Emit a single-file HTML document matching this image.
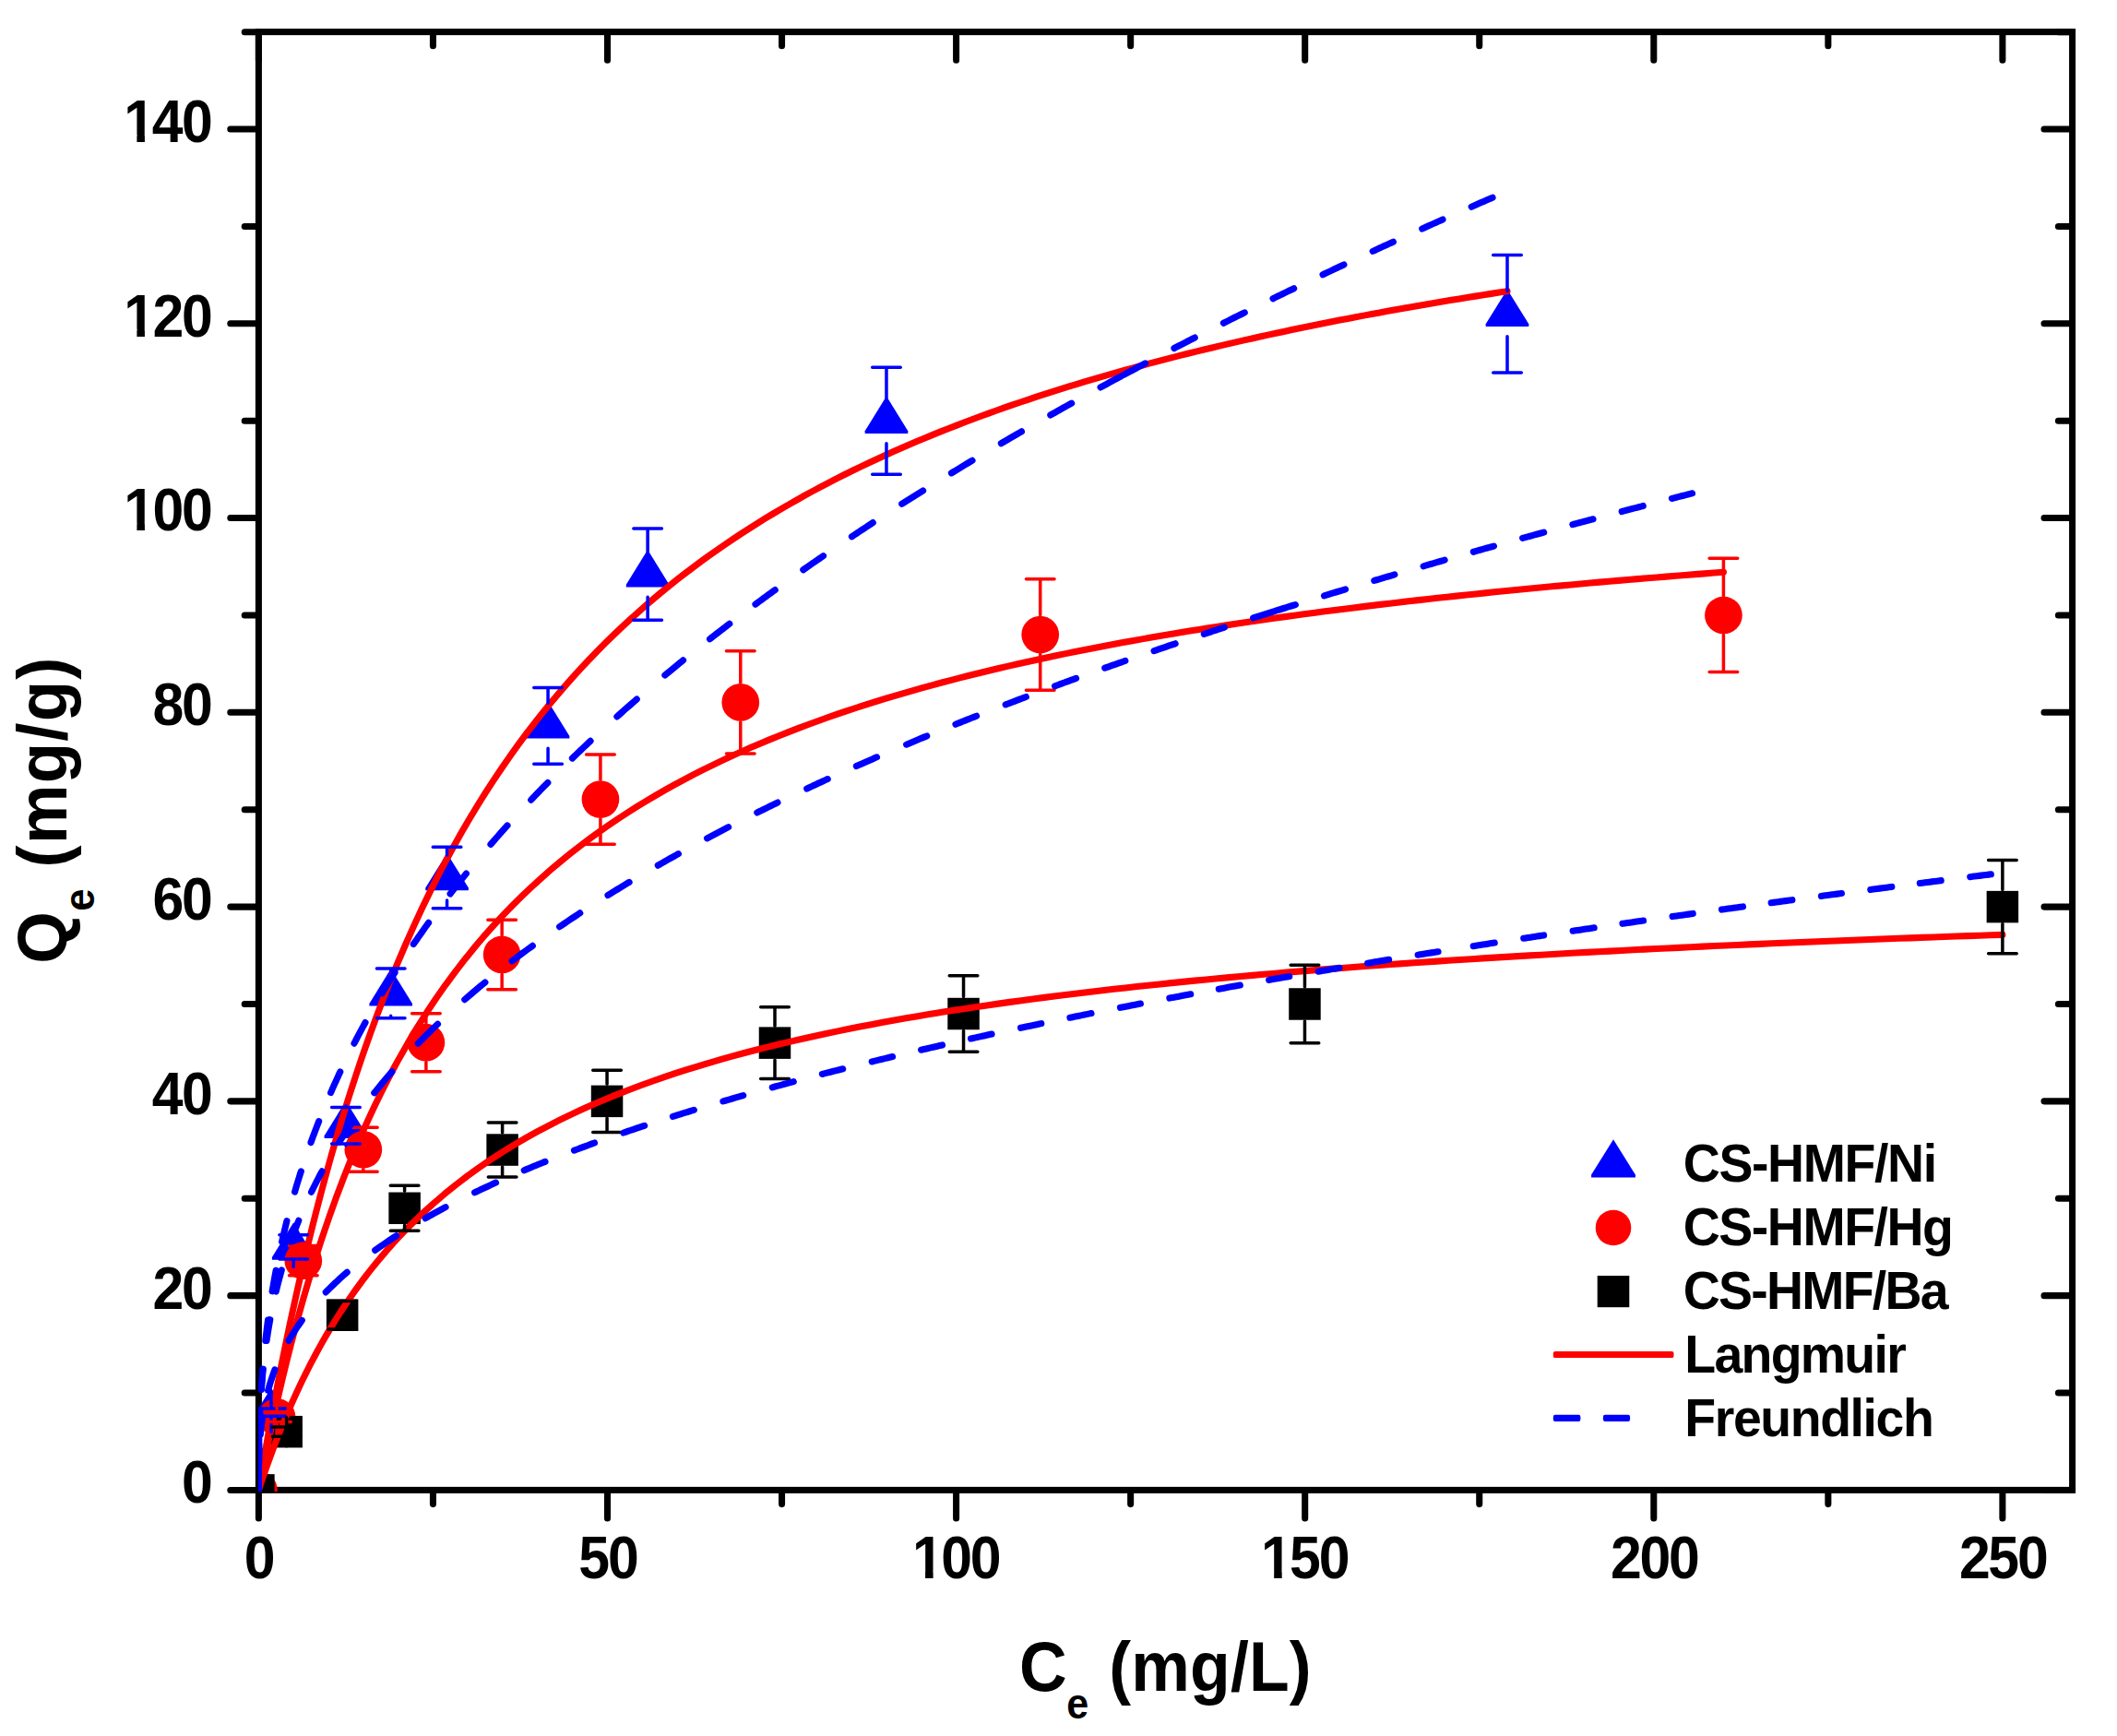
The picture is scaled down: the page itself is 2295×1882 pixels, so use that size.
<!DOCTYPE html>
<html lang="en"><head><meta charset="utf-8"><title>Adsorption isotherms</title>
<style>html,body{margin:0;padding:0;background:#fff}svg{display:block}</style></head>
<body>
<svg width="2295" height="1882" viewBox="0 0 2295 1882">
<rect width="2295" height="1882" fill="#fff"/>
<g stroke="#000" stroke-width="7.05" fill="none" stroke-linecap="round">
<rect x="280.4" y="34.6" width="1966.20" height="1580.80" stroke-linejoin="miter"/>
<path d="M280.40 1616.0v30.0M280.40 35.2v30.0"/>
<path d="M469.45 1616.0v14.6M469.45 35.2v14.6"/>
<path d="M658.50 1616.0v30.0M658.50 35.2v30.0"/>
<path d="M847.55 1616.0v14.6M847.55 35.2v14.6"/>
<path d="M1036.60 1616.0v30.0M1036.60 35.2v30.0"/>
<path d="M1225.65 1616.0v14.6M1225.65 35.2v14.6"/>
<path d="M1414.70 1616.0v30.0M1414.70 35.2v30.0"/>
<path d="M1603.75 1616.0v14.6M1603.75 35.2v14.6"/>
<path d="M1792.80 1616.0v30.0M1792.80 35.2v30.0"/>
<path d="M1981.85 1616.0v14.6M1981.85 35.2v14.6"/>
<path d="M2170.90 1616.0v30.0M2170.90 35.2v30.0"/>
<path d="M279.79999999999995 1615.40h-30.0M2246.0 1615.40h-30.0"/>
<path d="M279.79999999999995 1510.02h-14.6M2246.0 1510.02h-14.6"/>
<path d="M279.79999999999995 1404.64h-30.0M2246.0 1404.64h-30.0"/>
<path d="M279.79999999999995 1299.25h-14.6M2246.0 1299.25h-14.6"/>
<path d="M279.79999999999995 1193.87h-30.0M2246.0 1193.87h-30.0"/>
<path d="M279.79999999999995 1088.49h-14.6M2246.0 1088.49h-14.6"/>
<path d="M279.79999999999995 983.11h-30.0M2246.0 983.11h-30.0"/>
<path d="M279.79999999999995 877.73h-14.6M2246.0 877.73h-14.6"/>
<path d="M279.79999999999995 772.34h-30.0M2246.0 772.34h-30.0"/>
<path d="M279.79999999999995 666.96h-14.6M2246.0 666.96h-14.6"/>
<path d="M279.79999999999995 561.58h-30.0M2246.0 561.58h-30.0"/>
<path d="M279.79999999999995 456.20h-14.6M2246.0 456.20h-14.6"/>
<path d="M279.79999999999995 350.81h-30.0M2246.0 350.81h-30.0"/>
<path d="M279.79999999999995 245.43h-14.6M2246.0 245.43h-14.6"/>
<path d="M279.79999999999995 140.05h-30.0M2246.0 140.05h-30.0"/>
<path d="M279.79999999999995 34.67h-14.6M2246.0 34.67h-14.6"/>
</g>
<defs><clipPath id="cp"><rect x="280.2" y="0" width="2100" height="1617"/></clipPath></defs>
<g clip-path="url(#cp)">
<path fill="#00f" d="M280.40 1588.80L303.70 1626.40V1629.10H257.10V1626.40Z"/>
<path fill="#00f" d="M294.01 1504.49L317.31 1542.09V1544.79H270.71V1542.09Z"/>
<path fill="#00f" d="M318.21 1325.34L341.51 1362.94V1365.64H294.91V1362.94Z"/>
<path fill="#00f" d="M374.92 1193.62L398.22 1231.22V1233.92H351.62V1231.22Z"/>
<path fill="#00f" d="M423.70 1050.30L447.00 1087.90V1090.60H400.40V1087.90Z"/>
<path fill="#00f" d="M484.57 924.89L507.87 962.49V965.19H461.27V962.49Z"/>
<path fill="#00f" d="M594.07 760.29L617.37 797.89V800.59H570.77V797.89Z"/>
<path fill="#00f" d="M702.13 596.10L725.43 633.70V636.40H678.83V633.70Z"/>
<path fill="#00f" d="M960.98 429.60L984.28 467.20V469.90H937.68V467.20Z"/>
<path fill="#00f" d="M1634.00 313.68L1657.30 351.28V353.98H1610.70V351.28Z"/>
<circle fill="#f00" cx="280.40" cy="1615.40" r="20.35"/>
<circle fill="#f00" cx="300.06" cy="1536.36" r="20.35"/>
<circle fill="#f00" cx="328.80" cy="1366.70" r="20.35"/>
<circle fill="#f00" cx="393.83" cy="1246.25" r="20.35"/>
<circle fill="#f00" cx="461.89" cy="1130.22" r="20.35"/>
<circle fill="#f00" cx="544.16" cy="1034.96" r="20.35"/>
<circle fill="#f00" cx="650.94" cy="866.55" r="20.35"/>
<circle fill="#f00" cx="802.78" cy="761.38" r="20.35"/>
<circle fill="#f00" cx="1127.72" cy="688.04" r="20.35"/>
<circle fill="#f00" cx="1868.42" cy="666.96" r="20.35"/>
<rect fill="#000" x="263.15" y="1598.15" width="34.5" height="34.5"/>
<rect fill="#000" x="293.40" y="1534.92" width="34.5" height="34.5"/>
<rect fill="#000" x="353.89" y="1408.46" width="34.5" height="34.5"/>
<rect fill="#000" x="421.35" y="1292.54" width="34.5" height="34.5"/>
<rect fill="#000" x="527.37" y="1229.31" width="34.5" height="34.5"/>
<rect fill="#000" x="640.80" y="1176.62" width="34.5" height="34.5"/>
<rect fill="#000" x="822.74" y="1113.39" width="34.5" height="34.5"/>
<rect fill="#000" x="1027.29" y="1081.78" width="34.5" height="34.5"/>
<rect fill="#000" x="1397.22" y="1071.24" width="34.5" height="34.5"/>
<rect fill="#000" x="2153.65" y="965.86" width="34.5" height="34.5"/>
<polyline fill="none" stroke="#f00" stroke-width="7.1" stroke-linecap="round" stroke-linejoin="round" points="280.40,1615.40 282.96,1600.14 285.53,1585.17 288.09,1570.50 290.65,1556.11 293.22,1541.99 295.78,1528.13 298.34,1514.54 300.91,1501.19 303.47,1488.09 306.03,1475.23 308.60,1462.59 311.16,1450.19 313.72,1438.00 316.29,1426.02 318.85,1414.26 321.41,1402.69 323.98,1391.32 326.54,1380.15 329.10,1369.16 331.67,1358.35 334.23,1347.72 336.79,1337.27 339.36,1326.98 341.92,1316.86 344.48,1306.91 347.05,1297.11 349.61,1287.46 352.17,1277.96 354.74,1268.61 357.30,1259.41 359.87,1250.34 362.43,1241.41 364.99,1232.62 367.56,1223.96 370.12,1215.42 372.68,1207.01 375.25,1198.72 377.81,1190.55 380.37,1182.50 382.94,1174.57 385.50,1166.74 388.06,1159.03 390.63,1151.42 393.19,1143.92 395.75,1136.52 398.32,1129.23 400.88,1122.03 403.44,1114.93 406.01,1107.92 408.57,1101.01 411.13,1094.19 413.70,1087.46 416.26,1080.81 418.82,1074.26 421.39,1067.78 423.95,1061.39 426.51,1055.08 429.08,1048.86 431.64,1042.70 440.29,1022.51 448.94,1003.13 457.59,984.52 466.24,966.64 474.89,949.45 483.54,932.90 492.19,916.96 500.84,901.60 509.49,886.78 518.14,872.49 526.79,858.68 535.44,845.34 544.09,832.45 552.74,819.97 561.39,807.90 570.04,796.20 578.69,784.88 587.34,773.90 595.99,763.25 604.64,752.92 613.29,742.89 621.94,733.15 630.59,723.68 639.24,714.49 647.89,705.55 656.54,696.85 665.19,688.39 673.84,680.15 682.49,672.13 691.14,664.31 699.79,656.70 708.44,649.28 717.09,642.04 725.74,634.98 734.39,628.09 743.04,621.37 751.69,614.81 760.34,608.40 768.99,602.14 777.64,596.03 786.29,590.05 794.94,584.21 803.59,578.49 812.24,572.91 820.89,567.44 829.54,562.09 838.19,556.85 846.84,551.73 855.49,546.71 864.14,541.79 872.79,536.97 881.44,532.25 890.09,527.63 898.74,523.09 907.39,518.65 916.04,514.29 924.69,510.02 933.34,505.82 941.99,501.71 950.64,497.67 959.29,493.71 967.94,489.81 976.59,485.99 985.24,482.24 993.89,478.56 1002.54,474.94 1011.19,471.38 1019.84,467.89 1028.49,464.45 1037.14,461.08 1045.79,457.76 1054.44,454.49 1063.09,451.29 1071.74,448.13 1080.39,445.03 1089.04,441.97 1097.69,438.97 1106.34,436.01 1114.99,433.10 1123.64,430.24 1132.29,427.42 1140.94,424.64 1149.59,421.91 1158.24,419.22 1166.89,416.57 1175.54,413.95 1184.20,411.38 1192.85,408.85 1201.50,406.35 1210.15,403.89 1218.80,401.47 1227.45,399.08 1236.10,396.72 1244.75,394.40 1253.40,392.11 1262.05,389.85 1270.70,387.62 1279.35,385.43 1288.00,383.26 1296.65,381.12 1305.30,379.02 1313.95,376.94 1322.60,374.89 1331.25,372.86 1339.90,370.86 1348.55,368.89 1357.20,366.95 1365.85,365.02 1374.50,363.13 1383.15,361.25 1391.80,359.41 1400.45,357.58 1409.10,355.78 1417.75,354.00 1426.40,352.24 1435.05,350.50 1443.70,348.79 1452.35,347.09 1461.00,345.42 1469.65,343.76 1478.30,342.13 1486.95,340.51 1495.60,338.91 1504.25,337.34 1512.90,335.78 1521.55,334.23 1530.20,332.71 1538.85,331.20 1547.50,329.71 1556.15,328.24 1564.80,326.79 1573.45,325.35 1582.10,323.92 1590.75,322.51 1599.40,321.12 1608.05,319.74 1616.70,318.38 1625.35,317.03 1634.00,315.70"/>
<polyline fill="none" stroke="#f00" stroke-width="7.1" stroke-linecap="round" stroke-linejoin="round" points="280.40,1615.40 282.96,1602.12 285.53,1589.14 288.09,1576.46 290.65,1564.07 293.22,1551.96 295.78,1540.12 298.34,1528.54 300.91,1517.21 303.47,1506.12 306.03,1495.27 308.60,1484.64 311.16,1474.24 313.72,1464.05 316.29,1454.07 318.85,1444.29 321.41,1434.71 323.98,1425.32 326.54,1416.11 329.10,1407.08 331.67,1398.22 334.23,1389.53 336.79,1381.01 339.36,1372.64 341.92,1364.43 344.48,1356.37 347.05,1348.45 349.61,1340.68 352.17,1333.05 354.74,1325.55 357.30,1318.19 359.87,1310.95 362.43,1303.83 364.99,1296.84 367.56,1289.97 370.12,1283.21 372.68,1276.57 375.25,1270.03 377.81,1263.60 380.37,1257.28 382.94,1251.05 385.50,1244.93 388.06,1238.91 390.63,1232.98 393.19,1227.14 395.75,1221.39 398.32,1215.73 400.88,1210.16 403.44,1204.67 406.01,1199.26 408.57,1193.94 411.13,1188.69 413.70,1183.52 416.26,1178.43 418.82,1173.41 421.39,1168.46 423.95,1163.58 426.51,1158.77 429.08,1154.03 431.64,1149.36 441.98,1131.15 452.31,1113.92 462.65,1097.58 472.99,1082.07 483.32,1067.33 493.66,1053.30 504.00,1039.93 514.33,1027.17 524.67,1014.98 535.01,1003.34 545.34,992.19 555.68,981.51 566.02,971.28 576.35,961.46 586.69,952.02 597.02,942.95 607.36,934.23 617.70,925.84 628.03,917.75 638.37,909.96 648.71,902.44 659.04,895.18 669.38,888.17 679.72,881.39 690.05,874.84 700.39,868.51 710.73,862.37 721.06,856.43 731.40,850.68 741.74,845.09 752.07,839.68 762.41,834.43 772.75,829.33 783.08,824.38 793.42,819.57 803.76,814.89 814.09,810.34 824.43,805.92 834.77,801.61 845.10,797.42 855.44,793.34 865.77,789.36 876.11,785.49 886.45,781.71 896.78,778.03 907.12,774.43 917.46,770.93 927.79,767.50 938.13,764.16 948.47,760.90 958.80,757.71 969.14,754.60 979.48,751.55 989.81,748.58 1000.15,745.67 1010.49,742.82 1020.82,740.03 1031.16,737.31 1041.50,734.64 1051.83,732.03 1062.17,729.47 1072.51,726.97 1082.84,724.51 1093.18,722.11 1103.52,719.75 1113.85,717.44 1124.19,715.17 1134.53,712.95 1144.86,710.77 1155.20,708.63 1165.53,706.53 1175.87,704.47 1186.21,702.45 1196.54,700.47 1206.88,698.52 1217.22,696.61 1227.55,694.73 1237.89,692.88 1248.23,691.07 1258.56,689.29 1268.90,687.54 1279.24,685.81 1289.57,684.12 1299.91,682.46 1310.25,680.82 1320.58,679.21 1330.92,677.63 1341.26,676.07 1351.59,674.53 1361.93,673.03 1372.27,671.54 1382.60,670.08 1392.94,668.64 1403.28,667.22 1413.61,665.83 1423.95,664.46 1434.29,663.10 1444.62,661.77 1454.96,660.46 1465.29,659.16 1475.63,657.89 1485.97,656.63 1496.30,655.40 1506.64,654.18 1516.98,652.97 1527.31,651.79 1537.65,650.62 1547.99,649.47 1558.32,648.33 1568.66,647.21 1579.00,646.10 1589.33,645.01 1599.67,643.94 1610.01,642.88 1620.34,641.83 1630.68,640.79 1641.02,639.77 1651.35,638.77 1661.69,637.77 1672.03,636.79 1682.36,635.82 1692.70,634.87 1703.04,633.92 1713.37,632.99 1723.71,632.07 1734.04,631.16 1744.38,630.26 1754.72,629.38 1765.05,628.50 1775.39,627.63 1785.73,626.78 1796.06,625.93 1806.40,625.10 1816.74,624.27 1827.07,623.46 1837.41,622.65 1847.75,621.85 1858.08,621.07 1868.42,620.29"/>
<polyline fill="none" stroke="#f00" stroke-width="7.1" stroke-linecap="round" stroke-linejoin="round" points="280.40,1615.40 282.96,1607.67 285.53,1600.12 288.09,1592.74 290.65,1585.53 293.22,1578.47 295.78,1571.57 298.34,1564.81 300.91,1558.20 303.47,1551.72 306.03,1545.39 308.60,1539.18 311.16,1533.10 313.72,1527.14 316.29,1521.30 318.85,1515.58 321.41,1509.97 323.98,1504.46 326.54,1499.07 329.10,1493.77 331.67,1488.58 334.23,1483.48 336.79,1478.48 339.36,1473.57 341.92,1468.75 344.48,1464.01 347.05,1459.36 349.61,1454.80 352.17,1450.31 354.74,1445.90 357.30,1441.57 359.87,1437.31 362.43,1433.12 364.99,1429.00 367.56,1424.95 370.12,1420.97 372.68,1417.06 375.25,1413.20 377.81,1409.41 380.37,1405.68 382.94,1402.01 385.50,1398.40 388.06,1394.84 390.63,1391.34 393.19,1387.90 395.75,1384.50 398.32,1381.16 400.88,1377.86 403.44,1374.62 406.01,1371.43 408.57,1368.28 411.13,1365.17 413.70,1362.12 416.26,1359.10 418.82,1356.13 421.39,1353.20 423.95,1350.31 426.51,1347.47 429.08,1344.66 431.64,1341.89 444.15,1328.91 456.67,1316.74 469.18,1305.32 481.69,1294.57 494.20,1284.45 506.72,1274.89 519.23,1265.85 531.74,1257.29 544.25,1249.18 556.77,1241.47 569.28,1234.14 581.79,1227.17 594.30,1220.52 606.82,1214.17 619.33,1208.11 631.84,1202.31 644.36,1196.76 656.87,1191.45 669.38,1186.35 681.89,1181.46 694.41,1176.76 706.92,1172.24 719.43,1167.89 731.94,1163.71 744.46,1159.67 756.97,1155.79 769.48,1152.04 781.99,1148.42 794.51,1144.92 807.02,1141.54 819.53,1138.27 832.05,1135.11 844.56,1132.05 857.07,1129.08 869.58,1126.21 882.10,1123.43 894.61,1120.72 907.12,1118.10 919.63,1115.55 932.15,1113.08 944.66,1110.68 957.17,1108.34 969.68,1106.07 982.20,1103.86 994.71,1101.71 1007.22,1099.61 1019.74,1097.57 1032.25,1095.58 1044.76,1093.65 1057.27,1091.76 1069.79,1089.92 1082.30,1088.12 1094.81,1086.37 1107.32,1084.66 1119.84,1082.99 1132.35,1081.36 1144.86,1079.76 1157.37,1078.20 1169.89,1076.68 1182.40,1075.19 1194.91,1073.74 1207.43,1072.31 1219.94,1070.92 1232.45,1069.56 1244.96,1068.22 1257.48,1066.91 1269.99,1065.63 1282.50,1064.38 1295.01,1063.15 1307.53,1061.95 1320.04,1060.77 1332.55,1059.61 1345.06,1058.48 1357.58,1057.37 1370.09,1056.27 1382.60,1055.20 1395.11,1054.15 1407.63,1053.12 1420.14,1052.11 1432.65,1051.12 1445.17,1050.14 1457.68,1049.19 1470.19,1048.24 1482.70,1047.32 1495.22,1046.41 1507.73,1045.52 1520.24,1044.64 1532.75,1043.78 1545.27,1042.93 1557.78,1042.10 1570.29,1041.28 1582.80,1040.47 1595.32,1039.68 1607.83,1038.90 1620.34,1038.13 1632.86,1037.37 1645.37,1036.63 1657.88,1035.90 1670.39,1035.18 1682.91,1034.47 1695.42,1033.77 1707.93,1033.08 1720.44,1032.40 1732.96,1031.74 1745.47,1031.08 1757.98,1030.43 1770.49,1029.79 1783.01,1029.16 1795.52,1028.54 1808.03,1027.93 1820.55,1027.33 1833.06,1026.73 1845.57,1026.15 1858.08,1025.57 1870.60,1025.00 1883.11,1024.44 1895.62,1023.89 1908.13,1023.34 1920.65,1022.80 1933.16,1022.27 1945.67,1021.74 1958.18,1021.22 1970.70,1020.71 1983.21,1020.21 1995.72,1019.71 2008.24,1019.22 2020.75,1018.73 2033.26,1018.25 2045.77,1017.78 2058.29,1017.31 2070.80,1016.85 2083.31,1016.40 2095.82,1015.95 2108.34,1015.50 2120.85,1015.06 2133.36,1014.63 2145.87,1014.20 2158.39,1013.77 2170.90,1013.36"/>
<path fill="none" stroke="#00f" stroke-width="3.5" stroke-linecap="round" d="M278.71 1526.88h30.6M278.71 1535.31h30.6M294.01 1526.88V1509.64M294.01 1535.31V1552.54M302.91 1338.77h30.6M302.91 1365.12h30.6M318.21 1338.77V1330.49M318.21 1365.12V1373.39M359.62 1200.46h30.6M359.62 1239.98h30.6M374.92 1200.46V1198.77M374.92 1239.98V1241.67M408.40 1049.97h30.6M408.40 1103.82h30.6M423.70 1049.97V1052.45M423.70 1103.82V1101.35M469.27 918.30h30.6M469.27 984.69h30.6M484.57 918.30V927.04M484.57 984.69V975.94M578.77 745.46h30.6M578.77 828.31h30.6M594.07 745.46V762.44M594.07 828.31V811.34M686.83 573.07h30.6M686.83 672.34h30.6M702.13 573.07V598.25M702.13 672.34V647.15M945.68 398.24h30.6M945.68 514.16h30.6M960.98 398.24V431.75M960.98 514.16V480.65M1618.70 276.52h30.6M1618.70 404.03h30.6M1634.00 276.52V315.83M1634.00 404.03V364.73"/>
<path fill="none" stroke="#f00" stroke-width="3.5" stroke-linecap="round" d="M284.76 1531.23h30.6M284.76 1541.50h30.6M300.06 1531.23V1518.11M300.06 1541.50V1554.61M313.50 1350.53h30.6M313.50 1382.86h30.6M328.80 1350.53V1348.45M328.80 1382.86V1384.95M378.53 1222.25h30.6M378.53 1270.24h30.6M393.83 1222.25V1225.00M393.83 1270.24V1267.50M446.59 1098.68h30.6M446.59 1161.76h30.6M461.89 1098.68V1108.97M461.89 1161.76V1151.47M528.86 997.23h30.6M528.86 1072.68h30.6M544.16 997.23V1013.71M544.16 1072.68V1056.21M635.64 817.88h30.6M635.64 915.23h30.6M650.94 817.88V845.30M650.94 915.23V887.80M787.48 705.87h30.6M787.48 816.89h30.6M802.78 705.87V740.13M802.78 816.89V782.63M1112.42 627.76h30.6M1112.42 748.32h30.6M1127.72 627.76V666.79M1127.72 748.32V709.29M1853.12 605.31h30.6M1853.12 728.61h30.6M1868.42 605.31V645.71M1868.42 728.61V688.21"/>
<path fill="none" stroke="#000" stroke-width="3.5" stroke-linecap="round" d="M295.35 1547.11h30.6M295.35 1557.23h30.6M310.65 1547.11V1536.67M310.65 1557.23V1567.67M355.84 1410.54h30.6M355.84 1440.89h30.6M371.14 1410.54V1410.21M371.14 1440.89V1441.21M423.30 1285.34h30.6M423.30 1334.24h30.6M438.60 1285.34V1291.29M438.60 1334.24V1328.29M529.32 1217.06h30.6M529.32 1276.07h30.6M544.62 1217.06V1228.06M544.62 1276.07V1265.06M642.75 1160.15h30.6M642.75 1227.59h30.6M658.05 1160.15V1175.37M658.05 1227.59V1212.37M824.69 1091.86h30.6M824.69 1169.42h30.6M839.99 1091.86V1112.14M839.99 1169.42V1149.14M1029.24 1057.72h30.6M1029.24 1140.34h30.6M1044.54 1057.72V1080.53M1044.54 1140.34V1117.53M1399.17 1046.34h30.6M1399.17 1130.64h30.6M1414.47 1046.34V1069.99M1414.47 1130.64V1106.99M2155.60 932.52h30.6M2155.60 1033.69h30.6M2170.90 932.52V964.61M2170.90 1033.69V1001.61"/>
<path fill="none" stroke="#00f" stroke-width="7.1" stroke-linecap="round" stroke-linejoin="round" d="M280.40 1615.40L280.45 1595.56L280.49 1588.94L280.54 1584.08L280.59 1580.11L280.64 1576.68L280.68 1573.64L280.73 1570.88L280.78 1568.34L280.83 1565.98M281.41 1544.55L281.46 1543.19L281.51 1541.87L281.55 1540.58L281.60 1539.33L281.65 1538.10L281.70 1536.90L281.74 1535.72L281.79 1534.57L281.84 1533.44M283.25 1506.56L283.39 1504.39L283.52 1502.28L283.69 1499.87L283.88 1497.13L284.07 1494.47L284.26 1491.89L284.45 1489.38L284.64 1486.94L284.83 1484.57M287.80 1453.53L288.07 1451.13L288.34 1448.77L288.64 1446.18L288.95 1443.58L289.26 1441.02L289.57 1438.52L289.87 1436.07L290.20 1433.54L290.53 1430.99M295.15 1399.86L295.55 1397.44L295.96 1395.06L296.36 1392.71L296.80 1390.17L297.25 1387.65L297.69 1385.16L298.16 1382.62L298.66 1379.90L299.16 1377.23M305.60 1346.18L306.14 1343.81L306.81 1340.90L307.48 1338.03L308.07 1335.53L308.64 1333.13L309.22 1330.76L309.79 1328.42L310.36 1326.11L310.96 1323.73M319.55 1292.14L320.22 1289.85L320.98 1287.26L321.79 1284.58L322.59 1281.93L323.39 1279.30L324.20 1276.71L325.00 1274.14L325.70 1271.92L326.37 1269.82M337.04 1238.54L338.04 1235.77L339.05 1233.04L339.96 1230.58L340.77 1228.43L341.66 1226.06L342.67 1223.42L343.67 1220.80L344.68 1218.21L345.68 1215.65M358.56 1184.60L359.56 1182.31L360.63 1179.91L361.96 1176.91L362.98 1174.65L364.11 1172.16L365.39 1169.36L366.39 1167.18L367.59 1164.58L368.80 1162.01M383.97 1131.17L385.31 1128.58L386.65 1126.01L387.99 1123.46L389.33 1120.92L390.67 1118.41L392.01 1115.91L393.35 1113.43L394.69 1110.97L396.03 1108.52M414.27 1076.73L415.61 1074.50L417.22 1071.83L418.82 1069.20L420.16 1067.01L421.64 1064.59L423.37 1061.81L424.86 1059.41L426.58 1056.68L428.08 1054.30M448.29 1023.60L450.25 1020.75L452.04 1018.15L453.47 1016.09L455.48 1013.21L457.48 1010.35L459.00 1008.21L460.70 1005.81L462.71 1003.00L464.61 1000.35M488.08 968.95L489.53 967.08L491.30 964.81L493.31 962.24L495.32 959.69L497.32 957.15L499.33 954.63L501.34 952.12L503.35 949.62L505.36 947.13M531.92 915.43L533.93 913.11L535.94 910.81L537.95 908.51L539.96 906.23L541.96 903.95L543.97 901.69L545.98 899.43L547.99 897.19L550.00 894.96M575.76 867.13L577.77 865.02L579.78 862.92L581.79 860.82L583.80 858.74L585.80 856.66L587.81 854.59L589.82 852.53L591.83 850.48L593.84 848.43M620.40 822.08L622.41 820.14L624.42 818.20L626.43 816.27L629.24 813.58L631.69 811.25L634.05 809.00L636.06 807.10L638.07 805.21L640.08 803.32M668.88 776.93L671.30 774.76L673.86 772.48L676.13 770.46L678.67 768.21L681.48 765.73L683.49 763.97L685.50 762.21L688.22 759.83L690.32 758.01M720.88 732.02L722.89 730.35L724.90 728.68L727.01 726.93L729.71 724.70L731.85 722.95L734.53 720.75L736.54 719.11L738.55 717.47L740.56 715.84M769.52 692.74L771.53 691.17L774.34 688.98L776.35 687.42L778.35 685.86L781.13 683.71L783.55 681.84L785.98 679.97L788.38 678.13L790.80 676.28M818.96 655.10L820.97 653.61L823.15 652.00L825.79 650.06L827.99 648.44L830.60 646.53L833.41 644.48L835.42 643.01L838.23 640.97L840.24 639.52M870.80 617.74L873.61 615.77L875.63 614.35L878.43 612.40L881.23 610.45L883.24 609.06L886.05 607.11L888.06 605.72L890.07 604.34L892.56 602.63M923.44 581.71L926.25 579.84L929.06 577.97L931.07 576.64L933.87 574.78L936.68 572.92L938.69 571.60L941.50 569.75L944.22 567.97L946.32 566.59M977.68 546.36L979.78 545.02L982.50 543.29L985.31 541.52L987.31 540.25L990.12 538.47L992.93 536.71L994.94 535.44L997.75 533.68L1000.56 531.92M1031.44 512.87L1033.93 511.35L1036.27 509.92L1038.75 508.42L1041.55 506.72L1043.56 505.51L1046.37 503.81L1049.18 502.12L1051.19 500.92L1054.00 499.23M1085.36 480.66L1087.94 479.15L1090.18 477.84L1092.77 476.33L1095.19 474.92L1097.80 473.40L1100.03 472.12L1102.62 470.61L1105.43 468.99L1107.44 467.83M1138.80 449.96L1141.61 448.37L1144.42 446.79L1146.43 445.67L1149.23 444.09L1151.69 442.72L1154.05 441.40L1156.52 440.02L1158.94 438.68L1161.68 437.15M1193.04 419.92L1195.05 418.83L1197.86 417.30L1200.67 415.78L1202.67 414.69L1205.48 413.18L1208.19 411.72L1210.30 410.58L1213.02 409.12L1215.44 407.82M1218.70 406.07L1221.51 404.57L1224.24 403.11L1226.33 402.00L1229.07 400.54L1231.49 399.25L1233.95 397.95L1236.33 396.69L1238.77 395.39L1241.58 393.91M1272.94 377.51L1274.95 376.47L1277.76 375.02L1280.57 373.57L1282.58 372.54L1285.38 371.09L1287.99 369.75L1290.20 368.62L1292.82 367.27L1295.24 366.04M1326.38 350.26L1329.19 348.85L1331.20 347.84L1334.01 346.43L1336.82 345.03L1338.82 344.03L1341.63 342.63L1344.44 341.23L1346.45 340.23L1349.26 338.84M1380.04 323.70L1382.63 322.43L1385.44 321.07L1387.45 320.09L1390.26 318.73L1393.06 317.36L1395.07 316.39L1397.88 315.03L1400.69 313.68L1402.70 312.71M1434.06 297.71L1436.54 296.54L1438.96 295.39L1441.69 294.10L1443.79 293.11L1446.50 291.83L1449.31 290.50L1451.32 289.56L1454.13 288.24L1456.94 286.92M1488.20 272.37L1490.31 271.40L1493.04 270.14L1495.45 269.03L1497.94 267.89L1500.29 266.81L1502.75 265.68L1505.56 264.39L1507.57 263.47L1510.38 262.18M1541.74 247.96L1544.55 246.70L1546.56 245.79L1549.37 244.53L1551.95 243.37L1554.18 242.37L1556.79 241.21L1559.21 240.13L1561.81 238.97L1564.04 237.97M1595.18 224.19L1597.99 222.96L1600.80 221.72L1602.81 220.84L1605.61 219.62L1608.42 218.39L1610.43 217.51L1613.24 216.28L1615.70 215.21L1618.06 214.19"/>
<path fill="none" stroke="#00f" stroke-width="7.1" stroke-linecap="round" stroke-linejoin="round" d="M280.40 1615.40L280.45 1590.55L280.50 1583.38L280.55 1578.27L280.60 1574.15L280.66 1570.64L280.71 1567.56L280.76 1564.79L280.81 1562.25L280.86 1559.92M281.50 1539.22L281.55 1537.94L281.60 1536.69L281.65 1535.48L281.70 1534.30L281.75 1533.15L281.81 1532.02L281.86 1530.92L281.91 1529.85L281.96 1528.80M283.36 1505.90L283.54 1503.58L283.71 1501.35L283.89 1499.18L284.06 1497.09L284.27 1494.67L284.52 1491.89L284.76 1489.22L285.01 1486.65L285.26 1484.16M289.03 1453.48L289.37 1451.20L289.71 1448.98L290.12 1446.35L290.54 1443.66L290.97 1441.05L291.40 1438.50L291.85 1435.91L292.32 1433.24L292.79 1430.64M299.22 1400.11L299.90 1397.33L300.57 1394.61L301.24 1391.94L301.92 1389.33L302.59 1386.77L303.26 1384.26L303.94 1381.79L304.61 1379.37L305.28 1376.99M315.13 1346.11L315.91 1343.90L316.82 1341.37L317.77 1338.80L318.71 1336.27L319.65 1333.77L320.59 1331.32L321.54 1328.90L322.68 1326.03L323.80 1323.24M337.56 1292.30L338.74 1289.88L339.91 1287.50L341.30 1284.72L342.74 1281.89L343.92 1279.60L345.10 1277.33L346.33 1274.98L347.91 1272.04L349.10 1269.83M367.75 1238.13L369.32 1235.66L370.89 1233.22L372.46 1230.81L374.03 1228.42L375.60 1226.06L377.17 1223.72L379.11 1220.87L380.94 1218.22L382.51 1215.96M405.79 1184.82L407.96 1182.12L410.18 1179.37L411.75 1177.45L414.09 1174.62L416.45 1171.79L418.35 1169.54L420.22 1167.33L422.58 1164.59L424.94 1161.87M453.28 1131.19L455.64 1128.79L457.99 1126.40L460.35 1124.04L462.71 1121.70L465.06 1119.37L467.42 1117.07L469.78 1114.78L472.13 1112.52L474.49 1110.26M503.77 1083.64L506.13 1081.60L509.43 1078.76L511.78 1076.75L514.14 1074.75L516.50 1072.76L518.85 1070.79L521.21 1068.83L523.57 1066.88L525.92 1064.94M555.21 1041.80L557.56 1040.00L559.92 1038.22L562.28 1036.45L564.63 1034.68L566.99 1032.93L570.29 1030.49L572.64 1028.75L575.00 1027.03L577.36 1025.31M606.64 1004.67L609.00 1003.06L611.35 1001.46L613.71 999.87L617.00 997.65L619.36 996.07L621.72 994.50L624.07 992.94L626.43 991.38L628.79 989.83M659.01 970.52L662.30 968.47L664.66 967.01L667.02 965.56L669.38 964.12L671.73 962.68L674.09 961.24L677.38 959.25L679.74 957.83L682.10 956.41M713.26 938.17L715.61 936.82L717.97 935.48L720.33 934.14L723.62 932.28L725.98 930.96L728.34 929.64L730.69 928.32L733.05 927.01L735.41 925.70M766.57 908.80L769.86 907.05L772.22 905.80L774.58 904.56L776.93 903.33L779.29 902.09L781.71 900.83L784.94 899.15L787.30 897.93L789.66 896.71M820.81 880.94L823.17 879.77L825.53 878.60L827.89 877.44L831.18 875.82L833.54 874.66L835.89 873.51L838.25 872.36L840.61 871.22L842.96 870.07M874.69 854.98L877.42 853.70L879.78 852.60L882.13 851.51L884.49 850.42L886.85 849.33L889.83 847.95L892.50 846.72L894.86 845.64L897.21 844.57M928.37 830.55L930.73 829.51L933.09 828.47L935.44 827.43L938.74 825.99L941.09 824.96L943.45 823.93L945.81 822.90L948.17 821.87L950.52 820.85M982.62 807.15L984.98 806.16L987.33 805.17L989.69 804.18L992.05 803.20L994.40 802.21L997.70 800.84L1000.06 799.87L1002.41 798.89L1004.77 797.92M1035.93 785.24L1038.29 784.29L1040.66 783.34L1043.94 782.03L1046.30 781.09L1048.65 780.15L1051.01 779.22L1053.37 778.28L1055.72 777.35L1058.64 776.20M1090.18 763.92L1092.53 763.02L1094.89 762.12L1097.25 761.21L1099.60 760.31L1101.96 759.42L1105.26 758.16L1107.61 757.27L1109.97 756.38L1112.33 755.48M1143.49 743.85L1145.84 742.98L1148.78 741.90L1151.50 740.90L1153.85 740.04L1156.21 739.17L1158.57 738.31L1160.92 737.45L1163.28 736.59L1166.58 735.40M1197.73 724.21L1200.09 723.37L1202.45 722.54L1204.81 721.71L1207.16 720.87L1209.52 720.04L1212.81 718.88L1215.17 718.05L1217.53 717.23L1219.88 716.40M1251.04 705.62L1253.40 704.81L1256.70 703.68L1259.05 702.88L1261.41 702.08L1263.77 701.28L1266.12 700.48L1268.48 699.68L1270.84 698.88L1274.13 697.77M1305.29 687.35L1307.65 686.57L1310.01 685.79L1312.36 685.02L1314.72 684.24L1317.60 683.29L1320.37 682.38L1322.73 681.61L1325.09 680.84L1327.44 680.07M1358.60 669.99L1360.96 669.23L1364.25 668.18L1366.61 667.43L1368.97 666.68L1371.32 665.93L1373.68 665.18L1376.04 664.43L1379.33 663.38L1381.69 662.64M1382.20 662.48L1384.56 661.73L1386.91 660.99L1389.27 660.25L1391.63 659.50L1394.45 658.62L1397.28 657.73L1399.64 656.99L1401.99 656.25L1404.35 655.52M1435.51 645.88L1437.87 645.15L1441.16 644.14L1443.52 643.42L1445.88 642.70L1448.23 641.99L1450.59 641.27L1452.95 640.55L1456.24 639.55L1458.60 638.84M1489.76 629.47L1492.11 628.77L1494.47 628.07L1496.83 627.37L1499.18 626.67L1502.48 625.69L1504.84 625.00L1507.19 624.30L1509.55 623.61L1511.91 622.91M1543.07 613.80L1545.42 613.12L1548.72 612.17L1551.08 611.49L1553.43 610.81L1555.79 610.13L1558.15 609.45L1560.50 608.77L1563.80 607.82L1566.16 607.15M1597.31 598.28L1599.67 597.62L1602.03 596.95L1604.39 596.29L1606.74 595.63L1610.04 594.70L1612.39 594.04L1614.75 593.38L1617.11 592.72L1619.46 592.06M1650.62 583.42L1653.41 582.66L1656.28 581.87L1658.63 581.22L1660.99 580.58L1663.35 579.93L1665.70 579.29L1668.55 578.51L1671.36 577.74L1673.71 577.10M1704.87 568.67L1707.23 568.04L1709.59 567.41L1711.94 566.78L1715.24 565.89L1717.59 565.26L1719.95 564.63L1722.31 564.01L1724.67 563.38L1727.02 562.75M1758.18 554.52L1761.48 553.66L1763.83 553.04L1766.19 552.42L1768.55 551.81L1770.90 551.19L1773.26 550.57L1776.56 549.72L1778.91 549.10L1781.27 548.49M1812.43 540.45L1814.79 539.84L1817.14 539.24L1819.50 538.64L1822.80 537.79L1825.15 537.19L1827.51 536.59L1829.87 535.99L1832.22 535.39L1834.58 534.79"/>
<path fill="none" stroke="#00f" stroke-width="7.1" stroke-linecap="round" stroke-linejoin="round" d="M280.40 1615.40L280.49 1594.79L280.58 1589.15L280.67 1585.15L280.76 1581.96L280.85 1579.24L280.93 1576.87L281.02 1574.73L281.11 1572.79L281.20 1571.00M282.31 1555.29L282.40 1554.33L282.49 1553.39L282.58 1552.48L282.74 1550.86L283.05 1547.98L283.36 1545.31L283.67 1542.81L283.99 1540.47L284.30 1538.26M290.62 1507.36L291.32 1504.83L292.09 1502.18L292.89 1499.52L293.69 1496.98L294.50 1494.53L295.30 1492.17L296.11 1489.87L297.04 1487.31L297.98 1484.84M313.03 1453.36L314.43 1450.96L315.83 1448.62L317.59 1445.77L319.20 1443.25L320.60 1441.10L322.46 1438.32L324.33 1435.61L325.92 1433.36L327.33 1431.42M353.25 1400.86L356.05 1398.01L358.03 1396.04L360.55 1393.59L363.35 1390.90L365.88 1388.54L367.85 1386.73L370.65 1384.19L373.46 1381.71L376.27 1379.27M406.66 1355.43L409.46 1353.42L412.27 1351.45L414.88 1349.63L416.76 1348.34L419.57 1346.43L422.37 1344.55L424.59 1343.08L426.87 1341.58L429.67 1339.76M461.18 1320.69L463.13 1319.59L465.68 1318.15L468.48 1316.59L470.97 1315.21L472.98 1314.11L475.78 1312.59L478.59 1311.07L480.69 1309.95L483.08 1308.68M514.59 1292.80L517.35 1291.48L519.22 1290.59L521.89 1289.32L524.70 1288.01L527.50 1286.70L529.69 1285.68L531.99 1284.62L534.80 1283.34L537.53 1282.10M568.22 1268.71L570.80 1267.62L573.61 1266.45L576.07 1265.43L578.10 1264.59L580.91 1263.44L583.71 1262.30L585.78 1261.46L588.21 1260.48L591.01 1259.35M622.45 1247.16L624.32 1246.46L627.02 1245.45L629.82 1244.40L632.63 1243.37L634.78 1242.57L637.12 1241.71L639.93 1240.69L642.63 1239.71L644.50 1239.03M675.93 1227.99L678.74 1227.03L681.16 1226.21L683.23 1225.50L686.04 1224.56L688.84 1223.62L690.88 1222.93L693.34 1222.12L696.14 1221.18L698.72 1220.33M729.41 1210.44L732.14 1209.58L734.95 1208.70L737.76 1207.82L739.87 1207.17L742.25 1206.43L745.05 1205.56L747.72 1204.74L749.59 1204.17L752.35 1203.33M783.86 1193.92L786.25 1193.22L788.36 1192.61L791.16 1191.79L793.97 1190.98L795.97 1190.40L798.46 1189.69L801.27 1188.88L803.82 1188.16L805.76 1187.60M837.27 1178.81L840.08 1178.04L842.35 1177.42L844.57 1176.82L847.38 1176.06L850.18 1175.30L852.81 1174.59L854.68 1174.09L857.48 1173.34L860.29 1172.59M891.35 1164.44L893.48 1163.89L896.29 1163.17L899.10 1162.45L901.07 1161.95L903.59 1161.31L906.40 1160.59L908.91 1159.95L910.89 1159.45L913.70 1158.75M945.20 1150.93L947.45 1150.39L949.70 1149.84L952.50 1149.16L955.31 1148.48L957.91 1147.85L959.80 1147.40L962.61 1146.72L965.41 1146.05L967.62 1145.52M998.61 1138.23L1001.42 1137.58L1004.22 1136.93L1006.16 1136.48L1008.72 1135.89L1011.52 1135.25L1014.01 1134.68L1016.02 1134.22L1018.82 1133.58L1021.63 1132.94M1052.54 1126.00L1054.82 1125.50L1057.63 1124.88L1060.39 1124.27L1062.26 1123.86L1064.93 1123.27L1067.74 1122.66L1070.54 1122.05L1072.72 1121.57L1075.04 1121.07M1106.54 1114.31L1109.35 1113.71L1111.25 1113.31L1113.84 1112.77L1116.65 1112.18L1119.10 1111.66L1121.14 1111.23L1123.95 1110.65L1126.76 1110.06L1128.82 1109.63M1159.95 1103.22L1162.76 1102.65L1165.48 1102.10L1167.35 1101.72L1170.06 1101.17L1172.86 1100.61L1175.67 1100.04L1177.81 1099.61L1180.16 1099.14L1182.97 1098.58M1214.48 1092.35L1216.35 1091.98L1218.97 1091.47L1221.78 1090.92L1224.19 1090.45L1226.27 1090.05L1229.08 1089.51L1231.88 1088.96L1233.91 1088.57L1236.38 1088.10M1267.88 1082.09L1270.57 1081.58L1272.44 1081.23L1275.18 1080.71L1277.99 1080.19L1280.29 1079.76L1282.48 1079.35L1285.29 1078.82L1288.10 1078.30L1290.75 1077.81M1321.29 1072.18L1324.10 1071.67L1326.90 1071.16L1329.29 1070.73L1331.40 1070.35L1334.20 1069.84L1337.01 1069.33L1339.00 1068.97L1341.50 1068.52L1344.31 1068.02M1375.67 1062.43L1377.54 1062.11L1380.31 1061.62L1383.12 1061.12L1385.38 1060.73L1387.61 1060.34L1390.42 1059.85L1393.22 1059.35L1395.85 1058.90L1397.72 1058.57M1429.23 1053.14L1432.03 1052.66L1434.38 1052.26L1436.52 1051.89L1439.33 1051.41L1442.14 1050.94L1444.10 1050.60L1446.63 1050.17L1449.44 1049.70L1451.94 1049.28M1482.63 1044.14L1485.44 1043.67L1488.24 1043.21L1490.48 1042.84L1492.74 1042.47L1495.54 1042.00L1498.32 1041.55L1500.20 1041.24L1502.84 1040.80L1505.65 1040.34M1537.16 1035.22L1539.48 1034.85L1541.65 1034.49L1544.46 1034.04L1547.26 1033.59L1549.19 1033.28L1551.76 1032.87L1554.56 1032.42L1557.04 1032.03L1559.06 1031.71M1597.20 1025.68L1600.01 1025.24L1602.81 1024.81L1604.85 1024.49L1607.31 1024.11L1610.11 1023.67L1612.92 1023.23L1615.31 1022.86L1617.41 1022.54L1620.22 1022.10M1651.73 1017.26L1653.84 1016.94L1656.22 1016.58L1659.02 1016.15L1661.69 1015.75L1663.56 1015.47L1666.32 1015.05L1669.13 1014.62L1671.40 1014.28L1673.62 1013.95M1705.13 1009.23L1707.94 1008.81L1709.94 1008.51L1712.43 1008.14L1715.24 1007.73L1717.79 1007.35L1719.73 1007.07L1722.54 1006.65L1725.34 1006.24L1728.15 1005.82M1758.94 1001.33L1761.35 1000.98L1764.15 1000.57L1766.78 1000.19L1768.65 999.92L1771.45 999.52L1774.26 999.11L1776.50 998.79L1778.75 998.47L1781.56 998.06M1813.07 993.57L1815.03 993.29L1817.56 992.93L1820.37 992.53L1822.88 992.18L1824.86 991.90L1827.67 991.50L1830.47 991.11L1833.28 990.71L1835.21 990.44M1866.47 986.08L1869.28 985.69L1871.88 985.33L1873.77 985.07L1876.58 984.68L1879.38 984.30L1881.59 983.99L1883.88 983.68L1886.68 983.29L1889.44 982.91M1920.13 978.72L1922.69 978.38L1925.49 978.00L1927.97 977.66L1929.99 977.39L1932.79 977.01L1935.60 976.63L1938.40 976.25L1940.31 976.00L1942.90 975.65M1974.41 971.44L1976.97 971.10L1978.90 970.84L1981.71 970.47L1984.51 970.10L1986.69 969.81L1989.01 969.51L1991.81 969.14L1994.53 968.78L1996.40 968.53M2027.81 964.42L2030.62 964.05L2033.07 963.74L2035.11 963.47L2037.92 963.11L2040.73 962.74L2042.78 962.48L2045.22 962.16L2048.02 961.80L2050.83 961.44M2081.32 957.52L2084.03 957.18L2086.83 956.82L2089.64 956.46L2091.78 956.19L2094.13 955.89L2096.94 955.54L2099.63 955.20L2101.50 954.96L2104.24 954.61M2135.75 950.65L2138.16 950.34L2140.24 950.08L2143.05 949.73L2145.85 949.38L2147.88 949.13L2150.35 948.82L2153.15 948.47L2155.96 948.12L2158.34 947.83"/>
</g>
<path fill="#00f" d="M1749 1235.3L1772.9 1273.6V1276.4H1725.1V1273.6Z"/>
<circle fill="#f00" cx="1749" cy="1331" r="19.3"/>
<rect fill="#000" x="1731.7" y="1383.0" width="34.6" height="34.2"/>
<rect fill="#f00" x="1683.8" y="1464.9" width="130.7" height="7.2" rx="2.2"/>
<rect fill="#00f" x="1683.8" y="1533.8" width="29.6" height="7.2" rx="2.2"/><rect fill="#00f" x="1737.9" y="1533.8" width="29.2" height="7.2" rx="2.2"/>
<text font-family="Liberation Sans, Arial, sans-serif" font-weight="bold" font-size="57.2" style="font-kerning:none;letter-spacing:-1.398px" transform="translate(1824.73,1281.00) scale(0.9690,1)">CS-HMF/Ni</text>
<text font-family="Liberation Sans, Arial, sans-serif" font-weight="bold" font-size="57.2" style="font-kerning:none;letter-spacing:-1.485px" transform="translate(1824.73,1350.00) scale(0.9690,1)">CS-HMF/Hg</text>
<text font-family="Liberation Sans, Arial, sans-serif" font-weight="bold" font-size="57.2" style="font-kerning:none;letter-spacing:-1.785px" transform="translate(1824.73,1418.90) scale(0.9690,1)">CS-HMF/Ba</text>
<text font-family="Liberation Sans, Arial, sans-serif" font-weight="bold" font-size="57.2" style="font-kerning:none;letter-spacing:-1.785px" transform="translate(1826.34,1487.80) scale(0.9690,1)">Langmuir</text>
<text font-family="Liberation Sans, Arial, sans-serif" font-weight="bold" font-size="57.2" style="font-kerning:none;letter-spacing:-1.469px" transform="translate(1826.34,1556.80) scale(0.9690,1)">Freundlich</text>
<defs><clipPath id="c1" clipPathUnits="userSpaceOnUse"><path d="M-5 -80H200V5H35.75V-7.87H24.64V5H15.47V-7.87H-5Z"/></clipPath></defs>
<text font-family="Liberation Sans, Arial, sans-serif" font-weight="bold" font-size="65.34" x="0.00" transform="translate(264.85,1711.40) scale(0.93,1)">0</text>
<text font-family="Liberation Sans, Arial, sans-serif" font-weight="bold" font-size="65.34" x="-0.32 33.87" transform="translate(627.61,1711.40) scale(0.93,1)">50</text>
<text font-family="Liberation Sans, Arial, sans-serif" font-weight="bold" font-size="65.34" clip-path="url(#c1)" x="0.32 33.87 67.74" transform="translate(988.68,1711.40) scale(0.93,1)">100</text>
<text font-family="Liberation Sans, Arial, sans-serif" font-weight="bold" font-size="65.34" clip-path="url(#c1)" x="0.32 33.55 67.74" transform="translate(1366.78,1711.40) scale(0.93,1)">150</text>
<text font-family="Liberation Sans, Arial, sans-serif" font-weight="bold" font-size="65.34" x="0.00 33.87 67.74" transform="translate(1745.90,1711.40) scale(0.93,1)">200</text>
<text font-family="Liberation Sans, Arial, sans-serif" font-weight="bold" font-size="65.34" x="0.00 33.55 67.74" transform="translate(2124.00,1711.40) scale(0.93,1)">250</text>
<text font-family="Liberation Sans, Arial, sans-serif" font-weight="bold" font-size="65.34" x="0.00" transform="translate(197.00,1629.30) scale(0.93,1)">0</text>
<text font-family="Liberation Sans, Arial, sans-serif" font-weight="bold" font-size="65.34" x="0.00 33.87" transform="translate(165.50,1418.54) scale(0.93,1)">20</text>
<text font-family="Liberation Sans, Arial, sans-serif" font-weight="bold" font-size="65.34" x="-0.75 33.87" transform="translate(165.50,1207.77) scale(0.93,1)">40</text>
<text font-family="Liberation Sans, Arial, sans-serif" font-weight="bold" font-size="65.34" x="0.00 33.87" transform="translate(165.50,997.01) scale(0.93,1)">60</text>
<text font-family="Liberation Sans, Arial, sans-serif" font-weight="bold" font-size="65.34" x="0.00 33.87" transform="translate(165.50,786.24) scale(0.93,1)">80</text>
<text font-family="Liberation Sans, Arial, sans-serif" font-weight="bold" font-size="65.34" clip-path="url(#c1)" x="0.32 33.87 67.74" transform="translate(134.00,575.48) scale(0.93,1)">100</text>
<text font-family="Liberation Sans, Arial, sans-serif" font-weight="bold" font-size="65.34" clip-path="url(#c1)" x="0.32 33.87 67.74" transform="translate(134.00,364.71) scale(0.93,1)">120</text>
<text font-family="Liberation Sans, Arial, sans-serif" font-weight="bold" font-size="65.34" clip-path="url(#c1)" x="0.32 33.12 67.74" transform="translate(134.00,153.95) scale(0.93,1)">140</text>
<text font-family="Liberation Sans, Arial, sans-serif" font-weight="bold" font-size="76.5" style="font-kerning:none" transform="translate(0,1833.4) scale(0.935,1)"><tspan x="1181.78">C</tspan><tspan x="1236.60" dy="30.0" font-size="46">e</tspan> <tspan x="1285.92" dy="-30.0" style="letter-spacing:0.178px">(mg/L)</tspan></text>
<text font-family="Liberation Sans, Arial, sans-serif" font-weight="bold" font-size="76.5" style="font-kerning:none" transform="translate(72.0,0) rotate(-90) scale(0.95,1)"><tspan x="-1099.66">Q</tspan><tspan x="-1039.64" dy="29.7" font-size="46">e</tspan> <tspan x="-989.92" dy="-29.7" style="letter-spacing:1.250px">(mg/g)</tspan></text>
</svg>
</body></html>
